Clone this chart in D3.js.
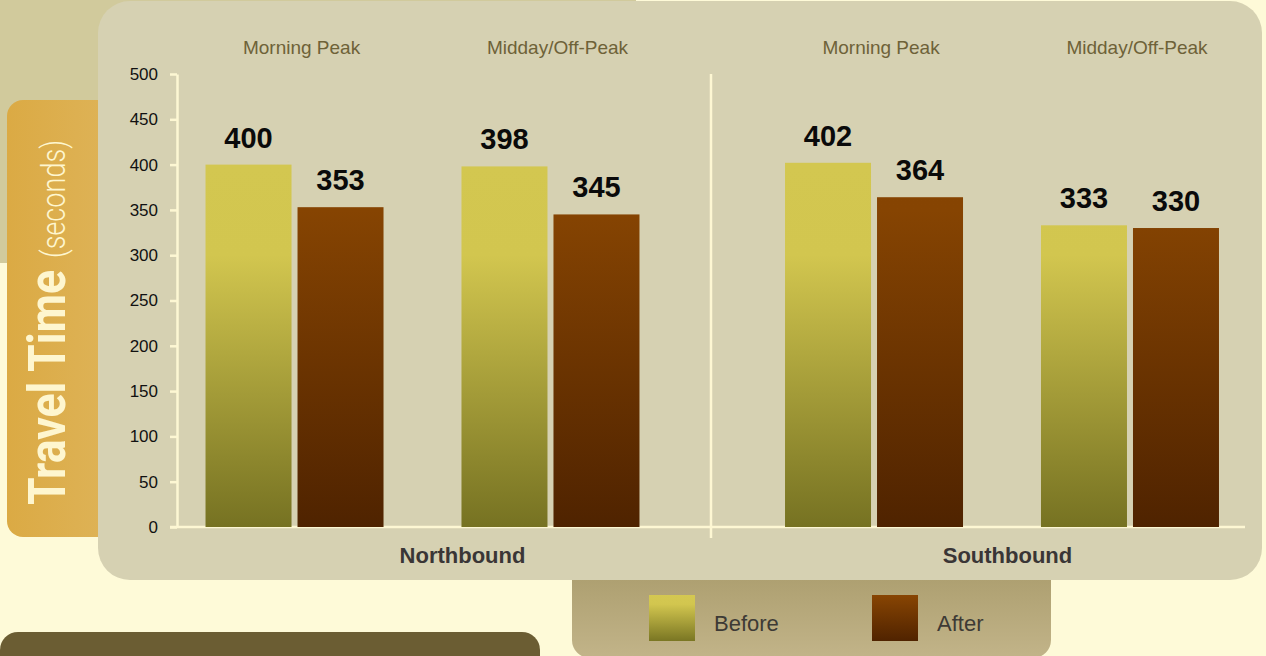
<!DOCTYPE html>
<html>
<head>
<meta charset="utf-8">
<script src="https://cdn.jsdelivr.net/npm/d3@7"></script>
<style>
  body { margin: 0; background: #fefad8; }
  svg { display: block; font-family: "Liberation Sans", Arial, sans-serif; }
</style>
</head>
<body>
<svg id="chart" width="1266" height="656"></svg>
<script>
const directions = ["Northbound", "Southbound"]
const periods = ["Morning Peak", "Midday/Off-Peak"]
const series = ["Before", "After"]
const beforeValues = [400, 398, 402, 333]
const afterValues = [353, 345, 364, 330]
const yTicks = [0, 50, 100, 150, 200, 250, 300, 350, 400, 450, 500]

const width = 1266
const height = 656

// plot area
const axisLeft = 177
const axisRight = 1245
const plotTop = 74
const plotBottom = 527

let rows = []
directions.forEach((dir, i) => {
    periods.forEach((per, j) => {
        let k = i * periods.length + j
        rows.push({dir, per, values: {"Before": beforeValues[k], "After": afterValues[k]}})
    })
})

let svg = d3.select("#chart")
let defs = svg.append("defs")

function vGrad(id, stops, userSpace) {
    let g = defs.append("linearGradient").attr("id", id)
        .attr("x1", 0).attr("x2", 0)
    if (userSpace) {
        g.attr("gradientUnits", "userSpaceOnUse")
            .attr("y1", plotTop).attr("y2", plotBottom)
    } else {
        g.attr("y1", 0).attr("y2", 1)
    }
    for (let [o, c] of stops) {
        g.append("stop").attr("offset", o).attr("stop-color", c)
    }
}
vGrad("barBefore", [[0, "#d4c851"], [0.4, "#d2c64f"], [1, "#767222"]], true)
vGrad("barAfter", [[0, "#884503"], [0.3, "#864402"], [1, "#4f2300"]], true)
vGrad("keyBefore", [[0, "#d4c851"], [0.2, "#d2c64f"], [1, "#7a7623"]], false)
vGrad("keyAfter", [[0, "#884503"], [1, "#502300"]], false)
vGrad("legendBg", [[0, "#a49665"], [1, "#c2b489"]], false)
let tabGrad = defs.append("linearGradient").attr("id", "tabBg")
    .attr("x1", 0).attr("x2", 1).attr("y1", 0).attr("y2", 0)
tabGrad.append("stop").attr("offset", 0).attr("stop-color", "#dbaa44")
tabGrad.append("stop").attr("offset", 1).attr("stop-color", "#dfb65e")

// background decoration
svg.append("rect").attr("x", 0).attr("y", 0).attr("width", 636).attr("height", 263)
    .attr("fill", "#d1ca9c")
svg.append("rect").attr("x", 7).attr("y", 100).attr("width", 140).attr("height", 437)
    .attr("rx", 16).attr("fill", "url(#tabBg)")
svg.append("rect").attr("x", 0).attr("y", 632).attr("width", 540).attr("height", 60)
    .attr("rx", 18).attr("fill", "#6b5d33")
svg.append("rect").attr("x", 572).attr("y", 540).attr("width", 479).attr("height", 118)
    .attr("rx", 18).attr("fill", "url(#legendBg)")

// main panel
svg.append("rect").attr("x", 98).attr("y", 1).attr("width", 1164).attr("height", 579)
    .attr("rx", 32).attr("fill", "#d6d1b2")

// y title
svg.append("text")
    .attr("transform", "translate(65,505) rotate(-90)")
    .attr("font-family", "Roboto, 'DejaVu Sans Condensed', sans-serif")
    .attr("font-weight", 700)
    .attr("font-size", 52)
    .attr("fill", "#fef6cf")
    .attr("textLength", 235)
    .attr("lengthAdjust", "spacingAndGlyphs")
    .text("Travel Time")
svg.append("text")
    .attr("transform", "translate(65,258) rotate(-90)")
    .attr("font-family", "Roboto, 'DejaVu Sans Condensed', sans-serif")
    .attr("font-weight", 300)
    .attr("font-size", 33)
    .attr("fill", "#fef6cf")
    .attr("textLength", 118)
    .attr("lengthAdjust", "spacingAndGlyphs")
    .text("(seconds)")

// scales
let y = d3.scaleLinear().domain([0, 500]).range([plotBottom, plotTop])
let outer = d3.scaleBand().domain(directions).range([132.75, 1291.75]).padding(0)
let inner = d3.scalePoint().domain(periods).range([0, outer.bandwidth()]).padding(0.632)
let sub = d3.scaleBand().domain(series).range([-89, 89]).paddingInner(0.0652)
let half = d3.scaleBand().domain(directions).range([axisLeft, axisRight])
let labelX = d3.scaleBand().domain(directions).range([190, 1280])

let cx = d => outer(d.dir) + inner(d.per)

// y axis
let yAxis = svg.append("g")
    .attr("transform", `translate(${axisLeft},0)`)
    .call(d3.axisLeft(y).tickValues(yTicks).tickSize(7).tickSizeOuter(0).tickPadding(12))
yAxis.select(".domain").attr("stroke", "#fdf7d3").attr("stroke-width", 2.5)
yAxis.selectAll(".tick line").attr("stroke", "#fdf7d3").attr("stroke-width", 2.5)
yAxis.selectAll(".tick text")
    .attr("font-family", "'Liberation Sans', Arial, sans-serif")
    .attr("font-size", 17)
    .attr("fill", "#111")

// baseline and divider
svg.append("line")
    .attr("x1", axisLeft - 7).attr("x2", axisRight)
    .attr("y1", y(0)).attr("y2", y(0))
    .attr("stroke", "#fdf7d3").attr("stroke-width", 2.5)
svg.append("line")
    .attr("x1", half(directions[1])).attr("x2", half(directions[1]))
    .attr("y1", plotTop).attr("y2", y(0) + 11)
    .attr("stroke", "#fdf7d3").attr("stroke-width", 2.5)

// bars
let groups = svg.append("g").selectAll("g")
    .data(rows)
    .join("g")
        .attr("transform", d => `translate(${cx(d)},0)`)

groups.selectAll("rect")
    .data(d => series.map(s => ({s, v: d.values[s]})))
    .join("rect")
        .attr("x", d => sub(d.s))
        .attr("y", d => y(d.v))
        .attr("width", sub.bandwidth())
        .attr("height", d => y(0) - y(d.v))
        .attr("fill", d => `url(#bar${d.s})`)

groups.selectAll("text.val")
    .data(d => series.map(s => ({s, v: d.values[s]})))
    .join("text")
        .classed("val", true)
        .attr("x", d => sub(d.s) + sub.bandwidth() / 2)
        .attr("y", d => y(d.v) - 17)
        .attr("text-anchor", "middle")
        .attr("font-weight", "bold")
        .attr("font-size", 29)
        .attr("fill", "#0a0a0a")
        .text(d => d.v)

// period labels
groups.append("text")
    .attr("x", 7)
    .attr("y", 54)
    .attr("text-anchor", "middle")
    .attr("font-size", 19)
    .attr("fill", "#6e6238")
    .text(d => d.per)

// direction labels
svg.append("g").selectAll("text")
    .data(directions)
    .join("text")
        .attr("x", d => labelX(d) + labelX.bandwidth() / 2)
        .attr("y", 563)
        .attr("text-anchor", "middle")
        .attr("font-weight", "bold")
        .attr("font-size", 22)
        .attr("fill", "#3a3636")
        .text(d => d)

// legend
let legendX = d3.scalePoint().domain(series).range([649, 872])
let key = svg.append("g").selectAll("g")
    .data(series)
    .join("g")
        .attr("transform", d => `translate(${legendX(d)},595)`)
key.append("rect")
    .attr("width", 46).attr("height", 46)
    .attr("fill", d => `url(#key${d})`)
key.append("text")
    .attr("x", 65).attr("y", 36)
    .attr("font-size", 22)
    .attr("fill", "#3d3a35")
    .text(d => d)
</script>
</body>
</html>
